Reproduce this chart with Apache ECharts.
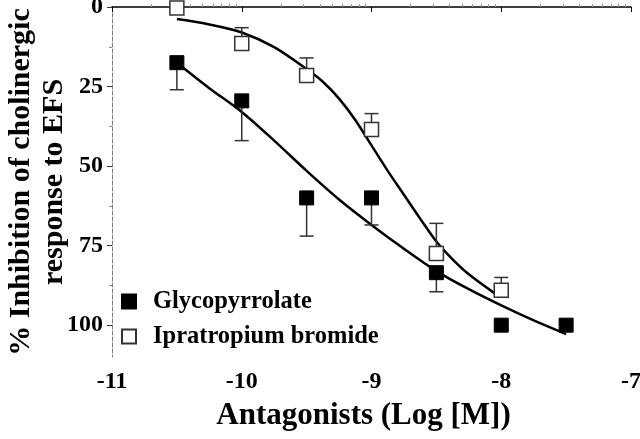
<!DOCTYPE html>
<html lang="en">
  <head>
    <meta charset="utf-8" />
    <title>Antagonists</title>
    <style>
      * {
        margin: 0;
        padding: 0;
      }
      #chart-container {
        position: relative;
        height: 100vh;
        width: 100vw;
        overflow: hidden;
        background: #fff;
      }
    </style>
  </head>
  <body>
    <div id="chart-container"></div>
    <script src="https://fastly.jsdelivr.net/npm/echarts@6/dist/echarts.min.js"></script>
    <script>
      // measured points (mean) and the end of the error bar
      const glycoX = [-10.5, -10, -9.5, -9, -8.5, -8, -7.5];
      const glycoY = [17.5, 29.5, 60, 60, 83.5, 100, 100];
      const glycoErr = [26, 42, 72, 68.5, 89.5, null, null];

      const ipraX = [-10.5, -10, -9.5, -9, -8.5, -8];
      const ipraY = [0.3, 11.5, 21.5, 38.5, 77.5, 89];
      const ipraErr = [null, 6.5, 16, 33.5, 68, 85];

      // fitted curves
      const glycoFitX = [-10.5, -10.25, -10, -9.75, -9.5, -9.25, -9, -8.75, -8.5, -8.25, -8, -7.75, -7.5];
      const glycoFitY = [17.5, 25.5, 33, 42, 51.5, 60.5, 68.5, 76, 83, 88.7, 93.8, 98.5, 102.8];
      const ipraFitX = [-10.5, -10.25, -10, -9.75, -9.5, -9.375, -9.25, -9.125, -9, -8.875, -8.75, -8.625, -8.5, -8.375, -8.25, -8.05];
      const ipraFitY = [3.8, 5.5, 8, 12.6, 19.5, 23.5, 28.8, 35.5, 43.5, 51.5, 59, 66.5, 73.7, 79.3, 84, 90];

      const xTicks = [-11, -10, -9, -8, -7];
      const yTicks = [0, 25, 50, 75, 100];
      const yMinorTicks = [12.5, 37.5, 62.5, 87.5];

      // log minor ticks between decades
      const xMinorTicks = [];
      for (let d = -11; d < -7; d++) {
        for (let k = 2; k <= 9; k++) xMinorTicks.push(d + Math.log10(k));
      }

      const font = "Liberation Serif";
      const zip = (a, b) => a.map((v, i) => [v, b[i]]);

      function errorBars(xs, ys, es) {
        return xs
          .map((x, i) => [x, ys[i], es[i]])
          .filter((d) => d[2] != null);
      }

      function renderErr(params, api) {
        const p0 = api.coord([api.value(0), api.value(1)]);
        const p1 = api.coord([api.value(0), api.value(2)]);
        const half = 7;
        const style = { stroke: "#333", lineWidth: 1.5 };
        return {
          type: "group",
          children: [
            { type: "line", shape: { x1: p0[0], y1: p0[1], x2: p1[0], y2: p1[1] }, style: style },
            { type: "line", shape: { x1: p1[0] - half, y1: p1[1], x2: p1[0] + half, y2: p1[1] }, style: style },
          ],
        };
      }

      var dom = document.getElementById("chart-container");
      var myChart = echarts.init(dom, null, { renderer: "canvas" });

      var option = {
        animation: false,
        grid: { left: 112, right: 9, top: 7, bottom: 82, outerBoundsMode: "none" },
        legend: {
          orient: "vertical",
          left: 121,
          top: 289,
          padding: 0,
          itemWidth: 14,
          itemHeight: 14,
          itemGap: 10,
          data: ["Glycopyrrolate", "Ipratropium bromide"],
          textStyle: {
            fontFamily: font,
            fontWeight: "bold",
            fontSize: 24.5,
            color: "#000",
            padding: [0, 0, 0, 12],
          },
        },
        xAxis: [
          {
            type: "value",
            min: -11,
            max: -7,
            interval: 1,
            name: "Antagonists (Log [M])",
            nameLocation: "middle",
            nameGap: 43,
            nameTextStyle: {
              fontFamily: font,
              fontWeight: "bold",
              fontSize: 31,
              color: "#000",
              padding: [0, 16, 0, 0],
            },
            axisLine: { lineStyle: { color: "#000", width: 1.5 } },
            axisTick: { length: 5, lineStyle: { color: "#000" } },
            axisLabel: {
              fontFamily: font,
              fontWeight: "bold",
              fontSize: 24,
              color: "#000",
              margin: 13,
              customValues: xTicks,
            },
            splitLine: { show: false },
          },
          {
            type: "value",
            min: -11,
            max: -7,
            position: "bottom",
            axisLine: { show: false },
            axisTick: {
              inside: true,
              length: 3,
              lineStyle: { color: "#999" },
              customValues: xMinorTicks,
            },
            axisLabel: { show: false },
            splitLine: { show: false },
          },
        ],
        yAxis: [
          {
            type: "value",
            inverse: true,
            min: 0,
            max: 110,
            interval: 25,
            name: "% Inhibition of cholinergic\nresponse to EFS",
            nameLocation: "middle",
            nameMoveOverlap: false,
            nameGap: 41,
            nameTextStyle: {
              fontFamily: font,
              fontWeight: "bold",
              fontSize: 30,
              lineHeight: 33,
              color: "#000",
            },
            axisLine: { lineStyle: { color: "#777", width: 1, type: [4, 2] } },
            axisTick: { length: 5, lineStyle: { color: "#333" }, customValues: yTicks },
            axisLabel: {
              fontFamily: font,
              fontWeight: "bold",
              fontSize: 24,
              color: "#000",
              margin: 9,
              customValues: yTicks,
            },
            splitLine: { show: false },
          },
          {
            type: "value",
            inverse: true,
            min: 0,
            max: 110,
            position: "left",
            axisLine: { show: false },
            axisTick: { length: 3, lineStyle: { color: "#888" }, customValues: yMinorTicks },
            axisLabel: { show: false },
            splitLine: { show: false },
          },
        ],
        series: [
          {
            name: "glycoFit",
            type: "line",
            smooth: 0.3,
            showSymbol: false,
            data: zip(glycoFitX, glycoFitY),
            lineStyle: { color: "#000", width: 2.5 },
            z: 2,
          },
          {
            name: "ipraFit",
            type: "line",
            smooth: 0.3,
            showSymbol: false,
            data: zip(ipraFitX, ipraFitY),
            lineStyle: { color: "#000", width: 2.5 },
            z: 2,
          },
          {
            type: "custom",
            renderItem: renderErr,
            data: errorBars(glycoX, glycoY, glycoErr),
            z: 3,
          },
          {
            type: "custom",
            renderItem: renderErr,
            data: errorBars(ipraX, ipraY, ipraErr),
            z: 3,
          },
          {
            name: "Glycopyrrolate",
            type: "scatter",
            symbol: "rect",
            symbolSize: 14,
            data: zip(glycoX, glycoY),
            itemStyle: { color: "#000", borderColor: "#000", borderWidth: 1, opacity: 1 },
            z: 4,
          },
          {
            name: "Ipratropium bromide",
            type: "scatter",
            symbol: "rect",
            symbolSize: 14,
            data: zip(ipraX, ipraY),
            itemStyle: { color: "#fff", borderColor: "#333", borderWidth: 1.5, opacity: 1 },
            z: 4,
          },
        ],
      };

      myChart.setOption(option);
      window.addEventListener("resize", myChart.resize);
    </script>
  </body>
</html>
